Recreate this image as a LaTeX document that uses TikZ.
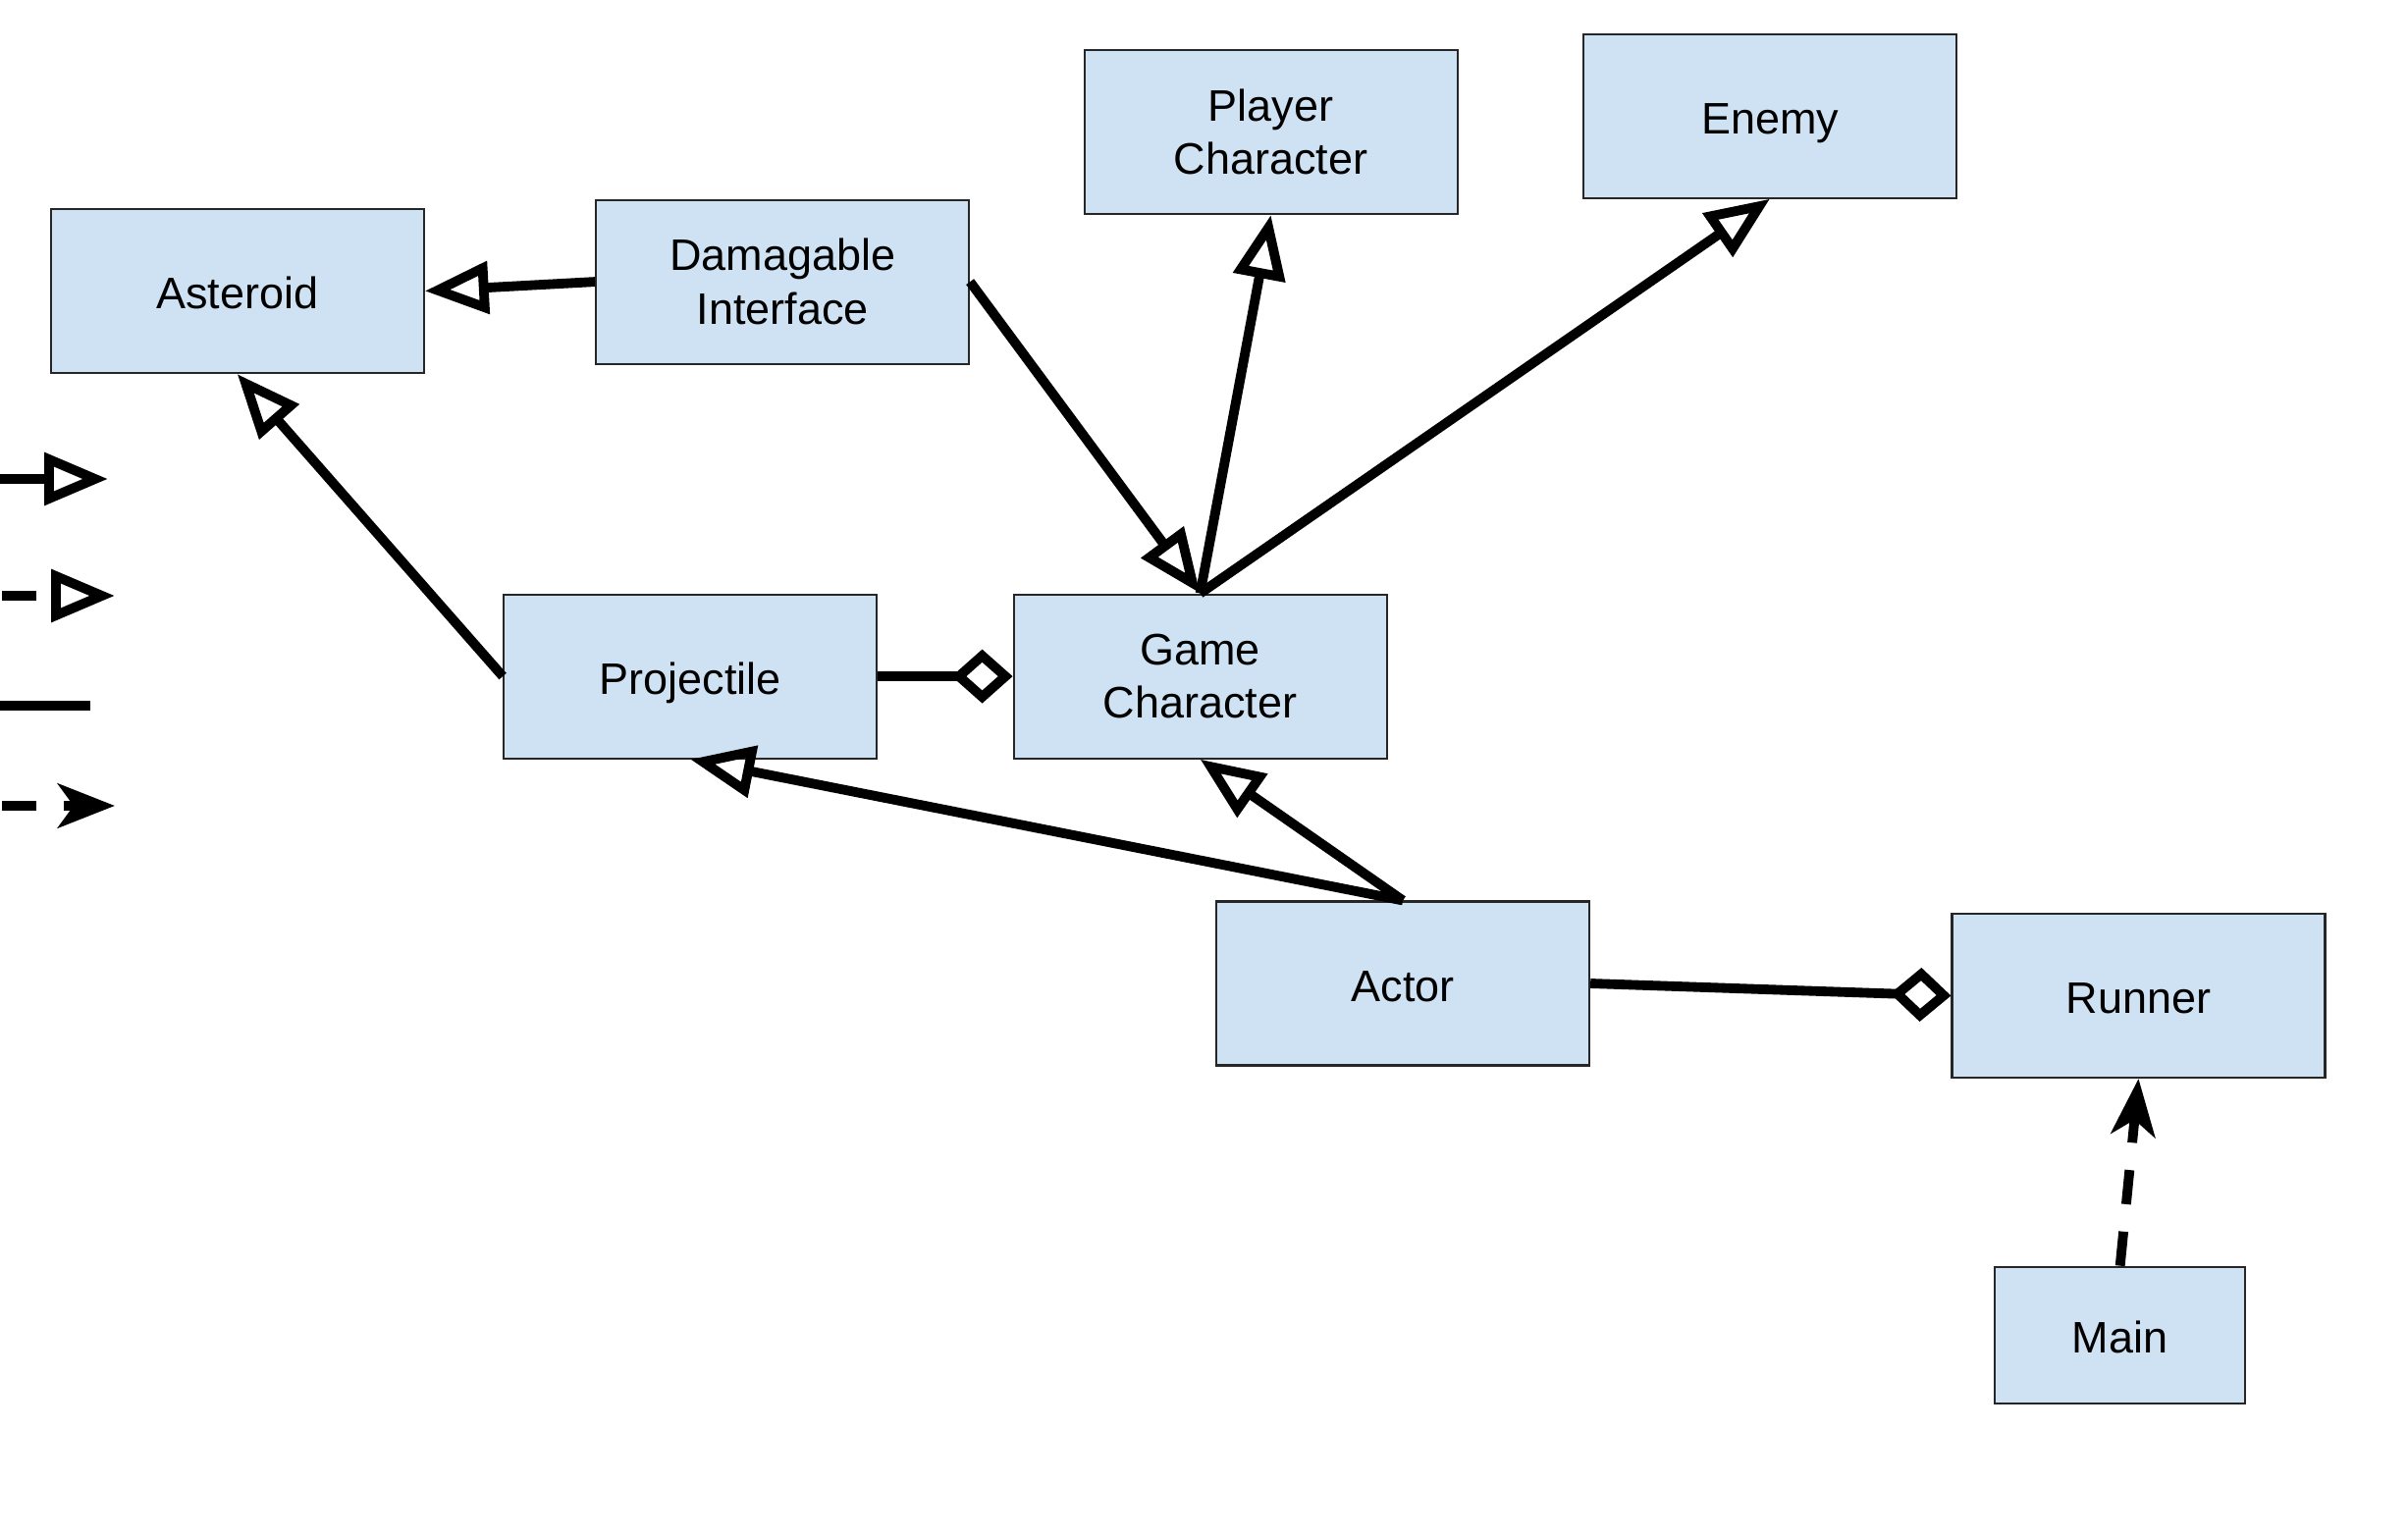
\documentclass[tikz,border=0pt]{standalone}
\usepackage{fontspec}
\setmainfont{Liberation Sans}
\usetikzlibrary{arrows.meta}
\definecolor{boxblue}{HTML}{CFE2F3}

\begin{document}
\begin{tikzpicture}[
    box/.style={draw=black!85, line width=0.6pt, fill=boxblue, minimum width=3.8cm, minimum height=1.67cm,
                inner sep=0pt, align=center, font=\fontsize{12.8}{15.5}\selectfont},
    oneline/.style={box, text height=10.5pt, text depth=0pt},
    link/.style={line width=2.8pt},
    inherit/.style={link, -{Triangle[open, length=6.5mm, width=5.2mm]}},
    owns/.style={link, -{Diamond[open, length=6.2mm, width=5.5mm]}},
    uses/.style={link, dash pattern=on 3.5mm off 2.8mm, -{Stealth[length=5.8mm, width=4.5mm, inset=1.6mm]}}
  ]
  \useasboundingbox (0,0) rectangle (24.53,-15.65);

  % classes
  \node[oneline] (asteroid) at (2.417,-2.965) {Asteroid};
  \node[box] (damagable) at (7.971,-2.871) {Damagable\\Interface};
  \node[box] (player) at (12.946,-1.345) {Player\\Character};
  \node[oneline] (enemy) at (18.030,-1.181) {Enemy};
  \node[oneline] (projectile) at (7.032,-6.891) {Projectile};
  \node[box] (gamechar) at (12.226,-6.891) {Game\\Character};
  \node[oneline] (actor) at (14.291,-10.020) {Actor};
  \node[oneline] (runner) at (21.785,-10.145) {Runner};
  \node[oneline, minimum width=2.55cm, minimum height=1.39cm] (main) at (21.597,-13.602) {Main};

  % relations
  \draw[inherit] (damagable.west) -- (asteroid.east);
  \draw[inherit] (damagable.east) -- (gamechar.north);
  \draw[inherit] (gamechar.north) -- (player.south);
  \draw[inherit] (gamechar.north) -- (enemy.south);
  \draw[inherit] (projectile.west) -- (asteroid.south);
  \draw[owns] (projectile.east) -- (gamechar.west);
  \draw[inherit] (actor.north) -- (projectile.south);
  \draw[inherit] (actor.north) -- (gamechar.south);
  \draw[owns] (actor.east) -- (runner.west);
  \draw[uses] (main.north) -- (runner.south);

  % legend, cut at the left edge
  \coordinate (leg1a) at (0,-4.88); \coordinate (leg1b) at (1.10,-4.88);
  \coordinate (leg2a) at (0.02,-6.07); \coordinate (leg2b) at (1.17,-6.07);
  \coordinate (leg3a) at (0,-7.19); \coordinate (leg3b) at (0.92,-7.19);
  \coordinate (leg4a) at (0.02,-8.21); \coordinate (leg4b) at (1.17,-8.21);
  \draw[inherit] (leg1a) -- (leg1b);
  \draw[inherit, dash pattern=on 3.5mm off 2.8mm] (leg2a) -- (leg2b);
  \draw[link] (leg3a) -- (leg3b);
  \draw[uses] (leg4a) -- (leg4b);
\end{tikzpicture}
\end{document}
